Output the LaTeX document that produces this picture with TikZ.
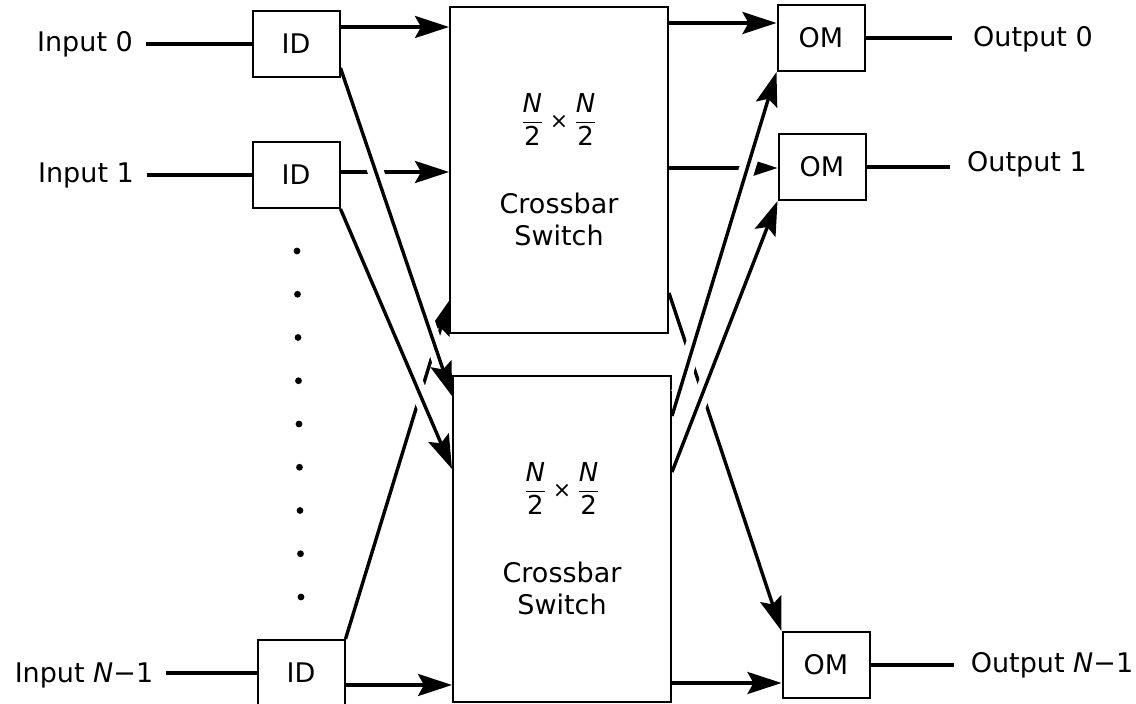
\documentclass[tikz,border=0pt]{standalone}
\usepackage{amsmath}
\usepackage{fontspec}
\setmainfont{DejaVu Sans}
\usetikzlibrary{arrows.meta, calc}

\tikzset{
  unit/.style={draw, line width=1pt, minimum width=43.5pt, minimum height=33pt,
    inner sep=0pt, font=\fontsize{13.5}{16}\selectfont},
  xbar/.style={draw, line width=1pt, minimum width=109pt, minimum height=163pt,
    inner sep=0pt, align=center, font=\fontsize{13.5}{16}\selectfont},
  port/.style={anchor=base, font=\fontsize{13.5}{16}\selectfont},
  link/.style={line width=1.7pt},
  arr/.style={link, ->},
  over/.style={preaction={draw=white, -, line width=8pt, shorten <=12pt, shorten >=16pt}},
}
\newcommand{\halfN}{\dfrac{\textit{N}}{\text{2}}}
\newcommand{\xbartext}{{\fontsize{13}{16}\selectfont\(\halfN\mathbin{\text{\fontsize{11}{12}\selectfont ×}}\halfN\)}\\[23pt]Crossbar\\Switch}

\begin{document}
\begin{tikzpicture}[x=0.5pt, y=-0.5pt, >={Stealth[length=17pt,width=11pt,inset=3pt]}]
  \useasboundingbox (0,0) rectangle (1136,704);

  % input side
  \node[unit] (ID0) at (296,44) {ID};
  \node[unit] (ID1) at (296,175) {ID};
  \node[unit] (IDN) at (301,673) {ID};
  \node[port] (I0) at (85,52) {Input 0};
  \node[port] (I1) at (86,183) {Input 1};
  \node[port] (IN) at (84,683) {Input \textit{N}\textminus1};

  % two half-size crossbars
  \node[xbar] (XU) at (559,170) {\xbartext};
  \node[xbar] (XL) at (562,539) {\xbartext};

  % output side
  \node[unit] (OM0) at (821,38) {OM};
  \node[unit] (OM1) at (822,167) {OM};
  \node[unit] (OMN) at (826,665) {OM};
  \node[port] (O0) at (1033,47) {Output 0};
  \node[port] (O1) at (1027,172) {Output 1};
  \node[port] (ON) at (1052,673) {Output \textit{N}\textminus1};

  % dots between Input 1 and Input N-1
  \foreach \k in {0,...,8}
    \fill (297+0.5*\k, 251+43.25*\k) circle (1.7pt);

  \draw[link, shorten >=3pt] (ID0.west) -- (ID0.west -| I0.east);
  \draw[link, shorten >=3pt] (ID1.west) -- (ID1.west -| I1.east);
  \draw[link, shorten >=3pt] (IDN.west) -- (IDN.west -| IN.east);
  \draw[link, shorten >=7pt] (OM0.east) -- (OM0.east -| O0.west);
  \draw[link, shorten >=5pt] (OM1.east) -- (OM1.east -| O1.west);
  \draw[link, shorten >=5pt] (OMN.east) -- (OMN.east -| ON.west);

  % straight links
  \draw[arr] ([yshift=8.5pt]ID0.east) -- ([yshift=8.5pt]ID0.east -| XU.west);
  \draw[arr] ([yshift=1.5pt]ID1.east) -- ([yshift=1.5pt]ID1.east -| XU.west);
  \draw[arr] ([yshift=-6pt]IDN.east) -- ([yshift=-6pt]IDN.east -| XL.west);
  \draw[arr] ([yshift=7.5pt]OM0.west -| XU.east) -- ([yshift=7.5pt]OM0.west);
  \draw[arr] ([yshift=-0.5pt]OM1.west -| XU.east) -- ([yshift=-0.5pt]OM1.west);
  \draw[arr] ([yshift=-9pt]OMN.west -| XL.east) -- ([yshift=-9pt]OMN.west);

  % crossing links (lines on top leave a gap)
  \draw[arr] (IDN.north east) -- ($(XU.south west)+(0,-33)$);
  \draw[arr] ($(XU.south east)+(0,-41)$) -- (OMN.north west);
  \draw[arr, over] ([yshift=5pt]ID0.south east) -- ($(XL.north west)+(0,21)$);
  \draw[arr, over] (ID1.south east) -- ($(XL.north west)+(0,94)$);
  \draw[arr, over] ($(XL.north east)+(0,41)$) -- (OM0.south west);
  \draw[arr, over] ($(XL.north east)+(0,97)$) -- (OM1.south west);
\end{tikzpicture}
\end{document}
